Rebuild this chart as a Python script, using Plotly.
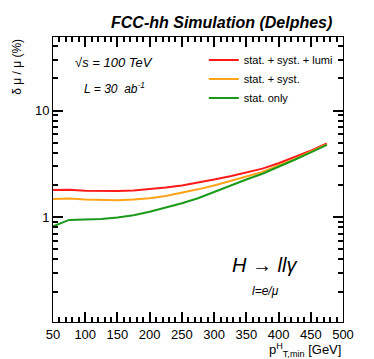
import plotly.graph_objects as go

# Data =========================================================================
pt_min = [50, 75, 100, 125, 150, 175, 200, 225, 250, 275, 300, 325, 350, 375, 400, 425, 450, 475]
stat_syst_lumi = [1.79, 1.80, 1.77, 1.76, 1.76, 1.78, 1.82, 1.89, 1.98, 2.10, 2.25, 2.42, 2.62, 2.85, 3.20, 3.65, 4.20, 4.90]
stat_syst = [1.48, 1.49, 1.46, 1.44, 1.44, 1.46, 1.50, 1.58, 1.69, 1.82, 1.98, 2.17, 2.40, 2.65, 3.05, 3.50, 4.10, 4.80]
stat_only = [0.82, 0.94, 0.95, 0.96, 0.99, 1.04, 1.12, 1.22, 1.35, 1.50, 1.72, 1.98, 2.25, 2.55, 2.95, 3.45, 4.05, 4.75]

series = [
    ('stat. + syst. + lumi', stat_syst_lumi, '#ff1a1a'),
    ('stat. + syst.', stat_syst, '#ffa31a'),
    ('stat. only', stat_only, '#1a9a1a'),
]

font = 'Liberation Sans, Arial, sans-serif'

# Plot =========================================================================
fig = go.Figure()
for name, vals, color in series:
    fig.add_trace(go.Scatter(x=pt_min, y=vals, mode='lines', name=name,
                             line=dict(color=color, width=2)))

# page body has an 8px margin, so the figure is a bit smaller than the window
fig.update_layout(
    template='none',
    width=366, height=351,
    margin=dict(l=45, r=31, t=29, b=37),
    font=dict(family=font, color='black', size=13),
    showlegend=True,
    legend=dict(x=0.52, y=0.97, xanchor='left', yanchor='top',
                bgcolor='rgba(0,0,0,0)', font=dict(size=11),
                tracegroupgap=0, itemwidth=30),
)

# grid lines kept on but white, so they vanish on the white plot area
fig.update_xaxes(range=[50, 500], tick0=50, dtick=50,
                 ticks='inside', ticklen=10, tickcolor='black', tickwidth=1.5,
                 showline=True, linecolor='black', linewidth=1, mirror='allticks', gridcolor='white',
                 minor=dict(dtick=10, ticks='inside', ticklen=5, tickcolor='black', tickwidth=1.5,
                            gridcolor='white'))
fig.update_yaxes(type='log', range=[-0.985, 1.69], dtick=1,
                 ticks='inside', ticklen=10, tickcolor='black', tickwidth=1.5,
                 showline=True, linecolor='black', linewidth=1, mirror='allticks', gridcolor='white',
                 minor=dict(ticks='inside', ticklen=5, tickcolor='black', tickwidth=1.5,
                            gridcolor='white'))

# Texts ========================================================================
fig.add_annotation(text='<b><i>FCC-hh Simulation (Delphes)</i></b>', xref='paper', yref='paper',
                   x=0.97, y=1.015, xanchor='right', yanchor='bottom', showarrow=False,
                   font=dict(size=16))
fig.add_annotation(text='δ μ / μ (%)', xref='paper', yref='paper', x=-0.125, y=1.0,
                   xanchor='center', yanchor='top', textangle=-90, showarrow=False,
                   font=dict(size=12))
fig.add_annotation(text='p<sup>H</sup><sub>T,min</sub> [GeV]', xref='paper', yref='paper',
                   x=1.0, y=-0.06, xanchor='right', yanchor='top', showarrow=False,
                   font=dict(size=13))
fig.add_annotation(text='<i>√s = 100 TeV</i>', xref='paper', yref='paper', x=0.07, y=0.91,
                   xanchor='left', yanchor='middle', showarrow=False, font=dict(size=13))
fig.add_annotation(text='<i>L = 30  ab<sup>-1</sup></i>', xref='paper', yref='paper', x=0.10, y=0.82,
                   xanchor='left', yanchor='middle', showarrow=False, font=dict(size=12))
fig.add_annotation(text='<i>H → llγ</i>', xref='paper', yref='paper', x=0.61, y=0.2,
                   xanchor='left', yanchor='middle', showarrow=False, font=dict(size=20))
fig.add_annotation(text='<i>l=e/μ</i>', xref='paper', yref='paper', x=0.68, y=0.11,
                   xanchor='left', yanchor='middle', showarrow=False, font=dict(size=12))

fig.write_html('out.html')
